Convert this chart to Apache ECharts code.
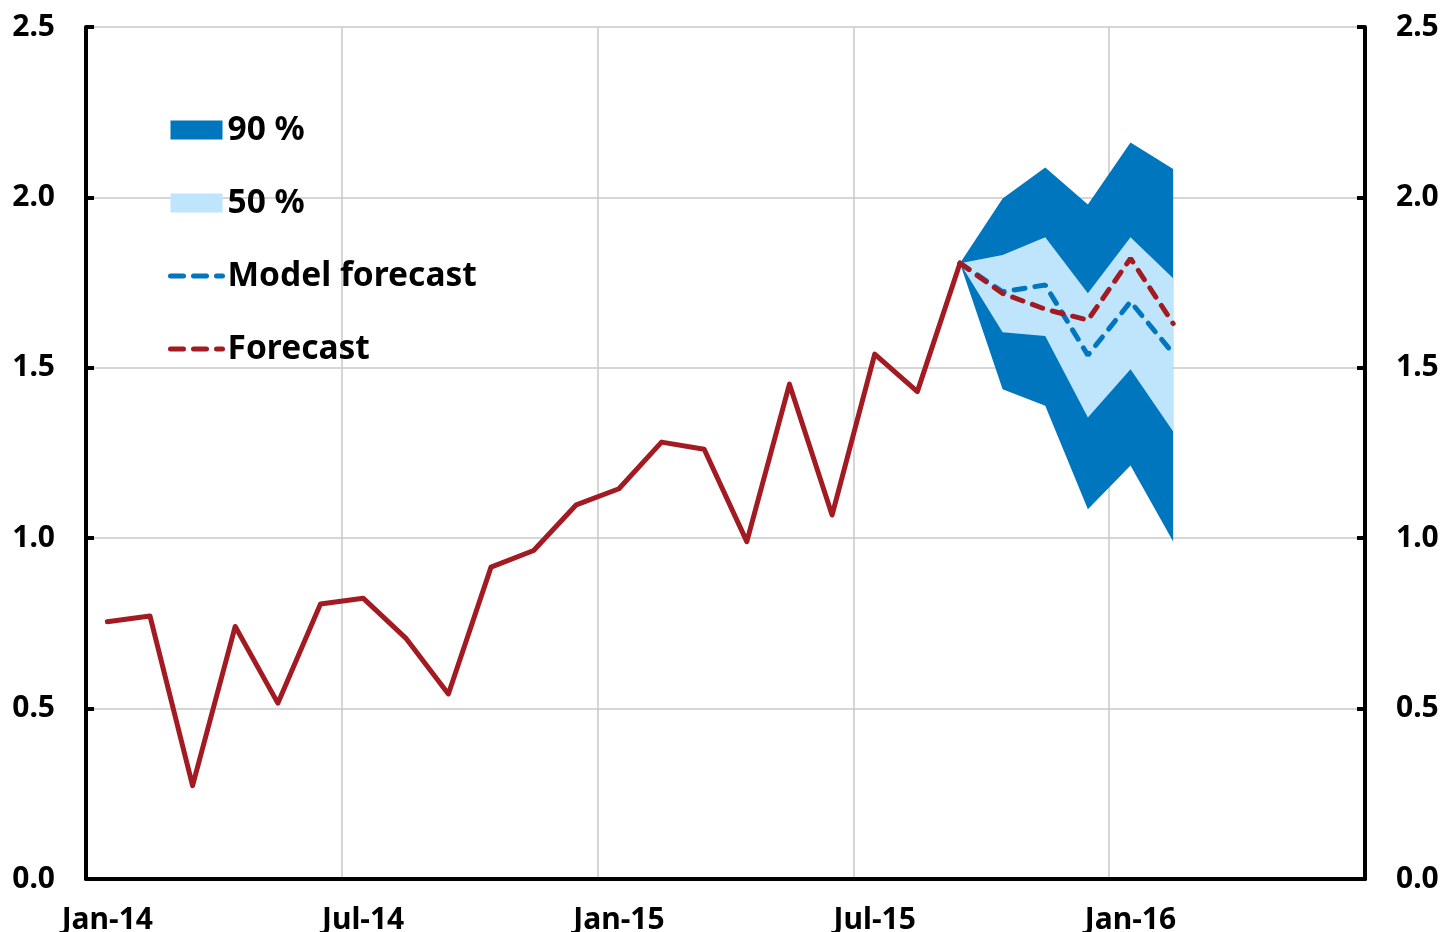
<!DOCTYPE html>
<html>
<head>
<meta charset="utf-8">
<script src="https://cdn.jsdelivr.net/npm/echarts@6/dist/echarts.min.js"></script>
<style>
  html, body { margin: 0; padding: 0; background: #fff; }
  #chart { width: 1445px; height: 932px; }
</style>
</head>
<body>
<div id="chart"></div>
<script>
// Monthly categories, Jan-14 .. Jun-16
const months = ['Jan','Feb','Mar','Apr','May','Jun','Jul','Aug','Sep','Oct','Nov','Dec'];
const categories = [];
for (let y = 14; y <= 16; y++) {
  for (let m = 0; m < 12; m++) {
    if (y === 16 && m > 5) break;
    categories.push(months[m] + '-' + y);
  }
}

// Outturn, Jan-14 .. Sep-15
const actual = [0.755, 0.772, 0.274, 0.741, 0.516, 0.807, 0.824, 0.707, 0.543, 0.915, 0.964, 1.098,
                1.145, 1.282, 1.261, 0.990, 1.452, 1.068, 1.540, 1.430, 1.807];

// Forecast period, Sep-15 .. Feb-16
const forecast      = [1.807, 1.718, 1.672, 1.640, 1.821, 1.630];
const modelForecast = [1.807, 1.723, 1.743, 1.537, 1.694, 1.542];
const upper90 = [1.807, 1.997, 2.088, 1.979, 2.161, 2.083];
const lower90 = [1.807, 1.437, 1.389, 1.085, 1.213, 0.990];
const upper50 = [1.807, 1.831, 1.883, 1.719, 1.883, 1.763];
const lower50 = [1.807, 1.604, 1.593, 1.354, 1.496, 1.313];

const forecastStart = actual.length - 1;

function place(vals) {
  const out = categories.map(() => null);
  vals.forEach((v, i) => { out[forecastStart + i] = v; });
  return out;
}
function spread(hi, lo) { return hi.map((v, i) => +(v - lo[i]).toFixed(4)); }

const actualData = categories.map((_, i) => i < actual.length ? actual[i] : null);

const DARK_BLUE = '#0076BE';
const LIGHT_BLUE = '#BEE5FB';
const RED = '#A31B22';
const FONT = '"Noto Sans", "Open Sans", sans-serif';
const DASH = [11, 10];

const chart = echarts.init(document.getElementById('chart'), null, { renderer: 'canvas' });

const axisText = { color: '#000', fontFamily: FONT, fontWeight: 'bold', fontSize: 30 };

function dashedLegend(name, color) {
  return {
    name: name,
    itemStyle: { opacity: 0 },
    lineStyle: { color: color, width: 5, type: [13, 10], cap: 'round', opacity: 1 }
  };
}

chart.setOption({
  animation: false,
  backgroundColor: '#fff',
  grid: { left: 86, right: 80, top: 27, bottom: 53, outerBoundsMode: 'none', containLabel: false },
  legend: {
    orient: 'vertical',
    left: 168,
    top: 111,
    padding: 0,
    itemWidth: 52,
    itemHeight: 19,
    itemGap: 35,
    selectedMode: false,
    textStyle: { color: '#000', fontFamily: FONT, fontWeight: 'bold', fontSize: 33.5, lineHeight: 38 },
    data: [
      { name: '90 %', icon: 'rect' },
      { name: '50 %', icon: 'rect' },
      dashedLegend('Model forecast', DARK_BLUE),
      dashedLegend('Forecast', RED)
    ]
  },
  xAxis: {
    type: 'category',
    data: categories,
    boundaryGap: true,
    axisLine: { lineStyle: { color: '#000', width: 4 } },
    axisTick: { inside: true, length: 8, interval: 5, lineStyle: { color: '#000', width: 4 } },
    axisLabel: Object.assign({ interval: 5, margin: 26 }, axisText),
    splitLine: { show: true, interval: 5, lineStyle: { color: '#C8C8C8', width: 1.5 } }
  },
  yAxis: [
    {
      type: 'value', min: 0, max: 2.5, interval: 0.5, position: 'left',
      axisLine: { show: true, lineStyle: { color: '#000', width: 4 } },
      axisTick: { show: true, inside: true, length: 8, lineStyle: { color: '#000', width: 4 } },
      axisLabel: Object.assign({ margin: 31, formatter: v => v.toFixed(1) }, axisText),
      splitLine: { show: true, lineStyle: { color: '#C8C8C8', width: 1.5 } }
    },
    {
      type: 'value', min: 0, max: 2.5, interval: 0.5, position: 'right',
      axisLine: { show: true, lineStyle: { color: '#000', width: 4 } },
      axisTick: { show: true, inside: true, length: 8, lineStyle: { color: '#000', width: 4 } },
      axisLabel: Object.assign({ margin: 31, formatter: v => v.toFixed(1) }, axisText),
      splitLine: { show: false }
    }
  ],
  series: [
    // 90 % band: invisible floor + filled spread
    { name: 'lower90', type: 'line', stack: 'b90', data: place(lower90), symbol: 'none',
      lineStyle: { width: 0 }, silent: true, z: 1 },
    { name: '90 %', type: 'line', stack: 'b90', data: place(spread(upper90, lower90)), symbol: 'none',
      lineStyle: { width: 0 }, itemStyle: { color: DARK_BLUE },
      areaStyle: { color: DARK_BLUE, opacity: 1 }, silent: true, z: 1 },
    // 50 % band
    { name: 'lower50', type: 'line', stack: 'b50', data: place(lower50), symbol: 'none',
      lineStyle: { width: 0 }, silent: true, z: 2 },
    { name: '50 %', type: 'line', stack: 'b50', data: place(spread(upper50, lower50)), symbol: 'none',
      lineStyle: { width: 0 }, itemStyle: { color: LIGHT_BLUE },
      areaStyle: { color: LIGHT_BLUE, opacity: 1 }, silent: true, z: 2 },
    { name: 'Model forecast', type: 'line', data: place(modelForecast), symbol: 'none',
      itemStyle: { color: DARK_BLUE },
      lineStyle: { color: DARK_BLUE, width: 5, type: DASH, cap: 'round' }, z: 4 },
    { name: 'Forecast', type: 'line', data: place(forecast), symbol: 'none',
      itemStyle: { color: RED },
      lineStyle: { color: RED, width: 5, type: DASH, cap: 'round' }, z: 5 },
    { name: 'Actual', type: 'line', data: actualData, symbol: 'none',
      itemStyle: { color: RED },
      lineStyle: { color: RED, width: 5, cap: 'round', join: 'round' }, z: 6 }
  ]
});
</script>
</body>
</html>
